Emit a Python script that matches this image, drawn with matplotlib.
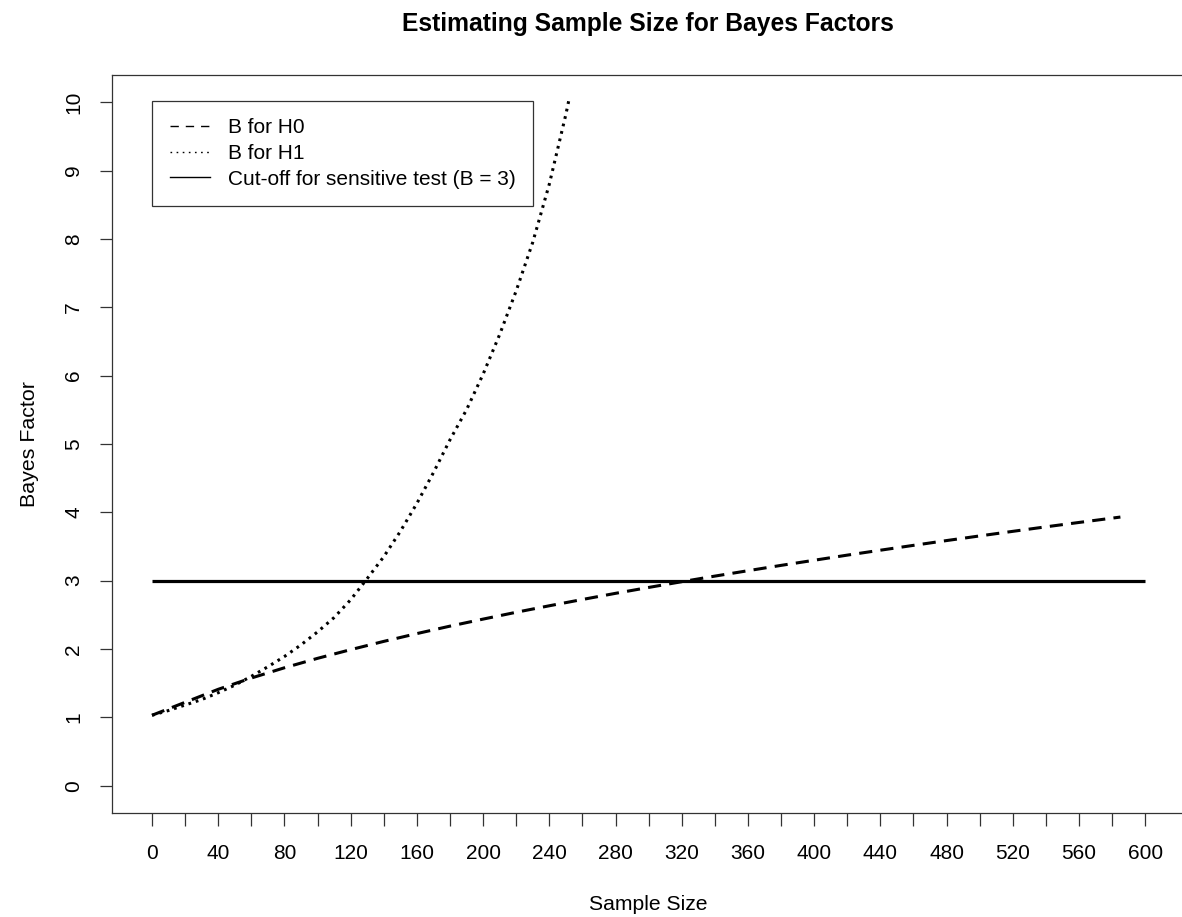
import matplotlib
matplotlib.use("Agg")
import matplotlib.pyplot as plt
from matplotlib.lines import Line2D

plt.rcParams['font.family'] = ['Liberation Sans', 'DejaVu Sans']

# B for H0 (dashed)
n_h0 = [0, 20, 40, 60, 80, 100, 120, 140, 160, 180, 200, 220, 240, 260, 280,
        300, 320, 340, 360, 380, 400, 420, 440, 460, 480, 500, 520, 540, 560, 585]
b_h0 = [1.03, 1.22, 1.41, 1.575, 1.725, 1.863, 1.99, 2.111, 2.225, 2.334, 2.437,
        2.537, 2.632, 2.724, 2.814, 2.90, 2.984, 3.066, 3.145, 3.223, 3.298,
        3.373, 3.445, 3.516, 3.586, 3.654, 3.721, 3.787, 3.851, 3.93]

# B for H1 (dotted)
n_h1 = [0, 10, 20, 30, 40, 50, 60, 70, 80, 90, 100, 110, 120, 130, 140, 150,
        160, 170, 180, 190, 200, 210, 220, 230, 240, 250, 252]
b_h1 = [1.03, 1.10, 1.18, 1.26, 1.36, 1.47, 1.60, 1.74, 1.89, 2.06, 2.25, 2.46,
        2.72, 3.03, 3.35, 3.72, 4.13, 4.58, 5.06, 5.50, 6.02, 6.60, 7.24, 7.95,
        8.80, 9.82, 10.05]

cutoff_n = [0, 600]
cutoff_b = [3, 3]

x_ticks = list(range(0, 601, 20))
x_labels = [str(v) if v % 40 == 0 else '' for v in x_ticks]
y_ticks = list(range(0, 11))

fig = plt.figure(figsize=(11.82, 9.17), dpi=100)
ax = fig.add_axes([0.095, 0.1134, 0.9075, 0.805])

ax.plot(n_h0, b_h0, color='black', lw=2.2, linestyle=(0, (4.3, 2.7)))
ax.plot(n_h1, b_h1, color='black', lw=2.2, linestyle=(0, (0.9, 1.6)))
ax.plot(cutoff_n, cutoff_b, color='black', lw=2.3, solid_capstyle='butt')

ax.set_xlim(-24, 624)
ax.set_ylim(-0.4, 10.4)
ax.set_xticks(x_ticks)
ax.set_xticklabels(x_labels)
ax.set_yticks(y_ticks)
ax.set_yticklabels([str(v) for v in y_ticks], rotation=90, va='center')
ax.tick_params(axis='both', direction='out', length=9, width=0.9,
               labelsize=15, color='#333333')
ax.tick_params(axis='x', pad=13)
ax.tick_params(axis='y', pad=12)
for s in ax.spines.values():
    s.set_linewidth(0.9)
    s.set_color('#333333')

ax.set_xlabel('Sample Size', fontsize=15.2, labelpad=23)
ax.set_ylabel('Bayes Factor', fontsize=15.4, labelpad=18)
fig.text(0.5485, 0.974, 'Estimating Sample Size for Bayes Factors',
         ha='center', va='center', fontsize=17.7, fontweight='bold')

handles = [
    Line2D([], [], color='black', lw=1, linestyle=(0, (6, 5))),
    Line2D([], [], color='black', lw=1, linestyle=(0, (1.2, 3.2))),
    Line2D([], [], color='black', lw=1),
]
labels = ['B for H0', 'B for H1', 'Cut-off for sensitive test (B = 3)']
leg = ax.legend(handles, labels, loc='upper left', bbox_to_anchor=(0.037, 0.965),
                fontsize=15, frameon=True, fancybox=False, borderpad=0.85,
                handlelength=1.95, handletextpad=0.85, labelspacing=0.32,
                borderaxespad=0)
leg.get_frame().set_edgecolor('black')
leg.get_frame().set_linewidth(0.9)

fig.savefig('out.png', dpi=100)
